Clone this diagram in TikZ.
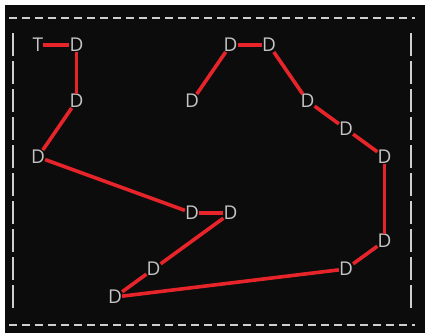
\documentclass[tikz,border=0pt]{standalone}
\usepackage{fontspec}
\setsansfont{Open Sans}
\usepackage{tikz}
\tikzset{cell/.style={inner sep=0pt,text=graytext,font=\sffamily\fontsize{19}{19}\selectfont},
route/.style={redpath,line width=3.6pt},
rim/.style={graydash,line width=2.4pt,dash pattern=on 8pt off 5pt},
side/.style={graydash,line width=2.4pt,dash pattern=on 23pt off 5pt}}
\definecolor{bgdark}{HTML}{0C0C0C}
\definecolor{graytext}{HTML}{C4C4C4}
\definecolor{graydash}{HTML}{CFCFCF}
\definecolor{redpath}{HTML}{E8242B}

\begin{document}
\begin{tikzpicture}[x=1pt,y=-1pt]
\useasboundingbox (0,0) rectangle (425,333);
\fill[white] (0,0) rectangle (425,333);
\fill[bgdark] (5,5) rectangle (425,333);
% frame
\draw[rim] (9,18)--(415,18);
\draw[rim] (9,325)--(415,325);
\draw[side] (13,33)--(13,308);
\draw[side] (411,33)--(411,308);
% cells
\node[cell] (t) at (38,45) {T};
\foreach \n/\i/\j in {d1/1/0,d2/1/2,d3/0/4,d4/4/6,d5/5/6,d6/3/8,d7/2/9,d8/8/8,
 d9/9/7,d10/9/4,d11/8/3,d12/7/2,d13/6/0,d14/5/0,d15/4/2} {
 \node[cell] (\n) at ({38+38.5*\i},{45+28*\j}) {D};
}
% route
\foreach \a/\b in {t/d1,d1/d2,d2/d3,d3/d4,d4/d5,d5/d6,d6/d7,d7/d8,d8/d9,
 d9/d10,d10/d11,d11/d12,d12/d13,d13/d14,d14/d15} {
 \draw[route] (\a)--(\b);
}
\end{tikzpicture}
\end{document}
